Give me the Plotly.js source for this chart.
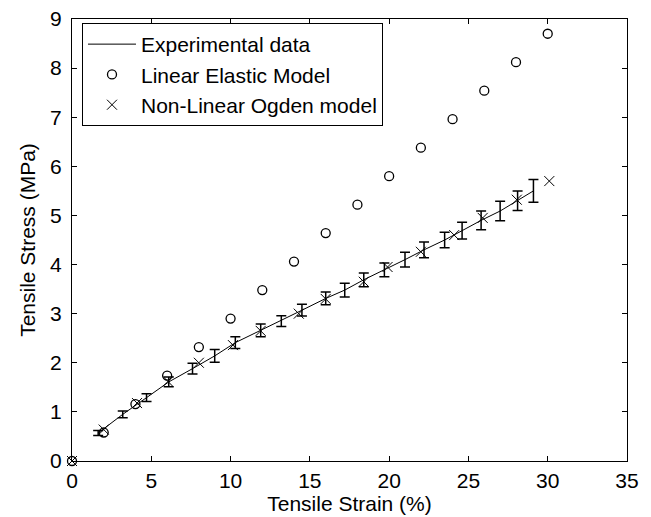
<!DOCTYPE html>
<html>
<head>
<meta charset="utf-8">
<script src="https://cdn.plot.ly/plotly-3.0.1.min.js"></script>
<style>html,body{margin:0;padding:0;background:#fff;}#chart{width:651px;height:517px;}</style>
</head>
<body>
<div id="chart"></div>
<script>
// Experimental data (mean with error bars)
var expStrain = [1.65, 3.2, 4.7, 6.1, 7.6, 9.0, 10.3, 11.9, 13.2, 14.5, 16.0, 17.2, 18.4, 19.7, 21.0, 22.2, 23.5, 24.6, 25.8, 27.0, 28.1, 29.1];
var expStress = [0.57, 0.95, 1.29, 1.61, 1.88, 2.14, 2.41, 2.66, 2.85, 3.07, 3.31, 3.48, 3.69, 3.89, 4.10, 4.30, 4.50, 4.69, 4.90, 5.09, 5.30, 5.50];
var expErr = [0.05, 0.07, 0.08, 0.10, 0.11, 0.13, 0.12, 0.13, 0.11, 0.12, 0.13, 0.14, 0.14, 0.14, 0.15, 0.16, 0.16, 0.17, 0.19, 0.20, 0.20, 0.23];

// Linear elastic model
var linStrain = [0, 2, 4, 6, 8, 10, 12, 14, 16, 18, 20, 22, 24, 26, 28, 30];
var linStress = [0, 0.58, 1.16, 1.74, 2.32, 2.90, 3.48, 4.06, 4.64, 5.22, 5.80, 6.38, 6.96, 7.54, 8.12, 8.70];

// Non-linear Ogden model
var ogdStrain = [0, 2, 4.1, 6.05, 8.0, 10.15, 11.9, 14.3, 16.0, 18.4, 19.9, 22.0, 24.1, 25.9, 28.05, 30.1];
var ogdStress = [0, 0.64, 1.18, 1.62, 2.0, 2.36, 2.65, 3.0, 3.30, 3.65, 3.95, 4.26, 4.60, 4.95, 5.32, 5.70];

var xTicks = [0, 5, 10, 15, 20, 25, 30, 35];
var yTicks = [0, 1, 2, 3, 4, 5, 6, 7, 8, 9];

var fontFam = 'Liberation Sans, Arial, Helvetica, sans-serif';
var fs = 21;

var traces = [
  {
    x: expStrain, y: expStress, mode: 'lines', name: 'Experimental data',
    line: {color: '#000', width: 1},
    error_y: {type: 'data', array: expErr, visible: true, color: '#000', thickness: 1.5, width: 5},
    cliponaxis: false
  },
  {
    x: linStrain, y: linStress, mode: 'markers', name: 'Linear Elastic Model',
    marker: {symbol: 'circle-open', size: 9, color: '#000', line: {width: 1.3, color: '#000'}},
    cliponaxis: false
  },
  {
    x: ogdStrain, y: ogdStress, mode: 'markers', name: 'Non-Linear Ogden model',
    marker: {symbol: 'x-thin-open', size: 10, color: '#000', line: {width: 1, color: '#000'}},
    cliponaxis: false
  }
];

var axisCommon = {
  showgrid: false, zeroline: false, showline: true, linecolor: '#000', linewidth: 1,
  mirror: 'ticks', ticks: 'inside', ticklen: 5, tickwidth: 1, tickcolor: '#000',
  tickfont: {family: fontFam, size: fs, color: '#000'}
};

var layout = {
  width: 651, height: 517,
  margin: {l: 72, r: 24, t: 19, b: 56},
  paper_bgcolor: '#fff', plot_bgcolor: '#fff',
  showlegend: true,
  legend: {
    x: 0.018, y: 0.991, xanchor: 'left', yanchor: 'top',
    bordercolor: '#000', borderwidth: 1, bgcolor: '#fff',
    font: {family: fontFam, size: 21, color: '#000'},
    itemwidth: 48,
    tracegroupgap: 0
  },
  xaxis: Object.assign({}, axisCommon, {
    range: [0, 35], tickvals: xTicks, ticktext: xTicks.map(String),
    ticklabelstandoff: 1,
    title: {text: 'Tensile Strain (%)', font: {family: fontFam, size: fs, color: '#000'}, standoff: 5}
  }),
  yaxis: Object.assign({}, axisCommon, {
    range: [0, 9], tickvals: yTicks, ticktext: yTicks.map(String),
    ticklabelstandoff: 5,
    title: {text: 'Tensile Stress (MPa)', font: {family: fontFam, size: fs, color: '#000'}, standoff: 8}
  })
};

Plotly.newPlot('chart', traces, layout, {displayModeBar: false, staticPlot: true});
</script>
</body>
</html>
